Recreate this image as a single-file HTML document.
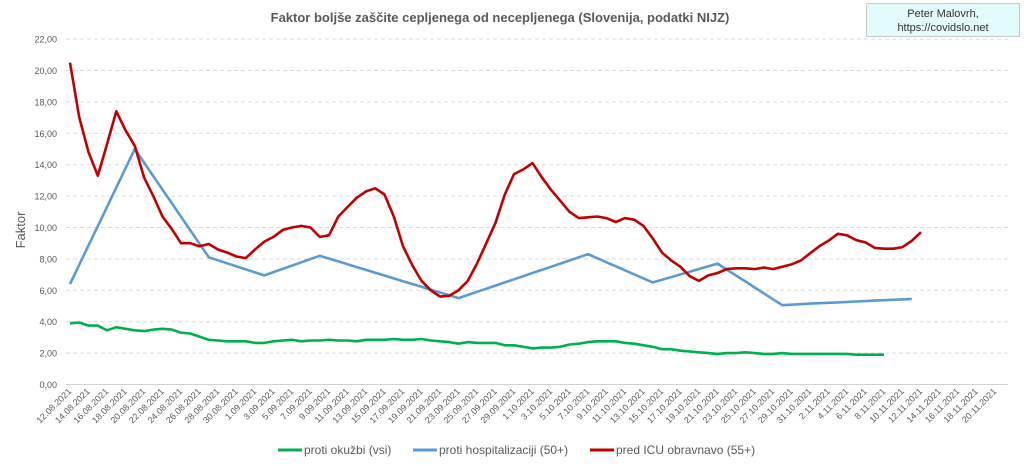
<!DOCTYPE html><html><head><style>body{margin:0;background:#fff}svg{display:block;font-family:"Liberation Sans",sans-serif}</style></head><body>
<svg id="s" width="1024" height="466" xmlns="http://www.w3.org/2000/svg">
<text x="500" y="22" text-anchor="middle" font-size="13" font-weight="bold" fill="#595959">Faktor boljše zaščite cepljenega od necepljenega (Slovenija, podatki NIJZ)</text>
<rect x="866.5" y="3.5" width="153" height="33" fill="#e3fbfb" stroke="#c8c8c8"/>
<text x="943" y="17" text-anchor="middle" font-size="11" fill="#333">Peter Malovrh,</text>
<text x="943" y="31" text-anchor="middle" font-size="11" fill="#333">https://covidslo.net</text>
<text transform="translate(25,230) rotate(-90)" text-anchor="middle" font-size="13" fill="#595959">Faktor</text>
<g id="g"></g>
<g font-size="12" fill="#595959">
<line x1="278" y1="450" x2="302" y2="450" stroke="#00b050" stroke-width="3"/><text x="304" y="454">proti okužbi (vsi)</text>
<line x1="413" y1="450" x2="437" y2="450" stroke="#5b9bd5" stroke-width="3"/><text x="439" y="454">proti hospitalizaciji (50+)</text>
<line x1="590" y1="450" x2="614" y2="450" stroke="#c00000" stroke-width="3"/><text x="616" y="454">pred ICU obravnavo (55+)</text>
</g>
</svg>
<script>
var g=document.getElementById('g'),h='';
function X(d){return 70+9.25*d}function Y(v){return 384.5-15.7*v}
for(var i=0;i<=11;i++){var y=Y(i*2);h+='<line x1="66" x2="1008" y1="'+y+'" y2="'+y+'" stroke="'+(i?'#d9d9d9':'#d0d0d0')+'" '+(i?'stroke-dasharray="4,3"':'')+'/>';
h+='<text x="57" y="'+(y+3.5)+'" text-anchor="end" font-size="9" fill="#595959">'+(i*2).toFixed(2).replace('.',',')+'</text>';}
var st=new Date(2021,7,12);
for(var d=0;d<=100;d+=2){var t=new Date(st.getTime()+d*864e5+3600e3);var s=t.getDate()+'.'+String(t.getMonth()+1).padStart(2,'0')+'.2021';
h+='<text transform="translate('+(X(d)+2)+',392) rotate(-45)" text-anchor="end" font-size="9" fill="#595959">'+s+'</text>';}
function pl(a,c){var p=a.map(function(v,i){return X(i).toFixed(1)+','+Y(v).toFixed(1)}).join(' ');h+='<polyline points="'+p+'" fill="none" stroke="'+c+'" stroke-width="2.6" stroke-linejoin="round"/>';}
function seg(k){var a=[];for(var j=0;j<k.length-1;j++){var d0=k[j][0],v0=k[j][1],d1=k[j+1][0],v1=k[j+1][1];for(var d=d0;d<d1;d++)a.push(v0+(v1-v0)*(d-d0)/(d1-d0));}a.push(k[k.length-1][1]);return a;}
var gr=[3.9,3.95,3.75,3.75,3.45,3.65,3.55,3.45,3.4,3.5,3.55,3.5,3.3,3.25,3.05,2.85,2.8,2.75,2.75,2.75,2.65,2.65,2.75,2.8,2.85,2.75,2.8,2.8,2.85,2.8,2.8,2.75,2.85,2.85,2.85,2.9,2.85,2.85,2.9,2.8,2.75,2.7,2.6,2.7,2.65,2.65,2.65,2.5,2.5,2.4,2.3,2.35,2.35,2.4,2.55,2.6,2.7,2.75,2.75,2.75,2.65,2.6,2.5,2.4,2.25,2.25,2.15,2.1,2.05,2.0,1.95,2.0,2.0,2.05,2.0,1.95,1.95,2.0,1.95,1.95,1.95,1.95,1.95,1.95,1.95,1.9,1.9,1.9,1.9];
var bl=seg([[0,6.4],[7,15],[15,8.1],[21,6.95],[27,8.2],[42,5.5],[56,8.3],[63,6.5],[70,7.7],[77,5.05],[80,5.15],[91,5.45]]);
var rd=[20.5,17,14.8,13.3,15.3,17.4,16.2,15.2,13.2,12,10.7,9.9,9.0,9.0,8.8,8.95,8.6,8.4,8.15,8.05,8.6,9.1,9.4,9.85,10.0,10.1,10.0,9.4,9.5,10.7,11.3,11.9,12.3,12.5,12.1,10.7,8.8,7.6,6.6,6.0,5.6,5.65,6.0,6.6,7.7,9.0,10.3,12.1,13.4,13.7,14.1,13.2,12.4,11.7,11.0,10.6,10.65,10.7,10.6,10.35,10.6,10.5,10.1,9.3,8.4,7.9,7.5,6.9,6.6,6.95,7.1,7.35,7.4,7.4,7.35,7.45,7.35,7.5,7.65,7.9,8.35,8.8,9.15,9.6,9.5,9.2,9.05,8.7,8.65,8.65,8.75,9.15,9.7];
pl(gr,'#00b050');pl(bl,'#5b9bd5');pl(rd,'#c00000');
g.innerHTML=h;
</script></body></html>
